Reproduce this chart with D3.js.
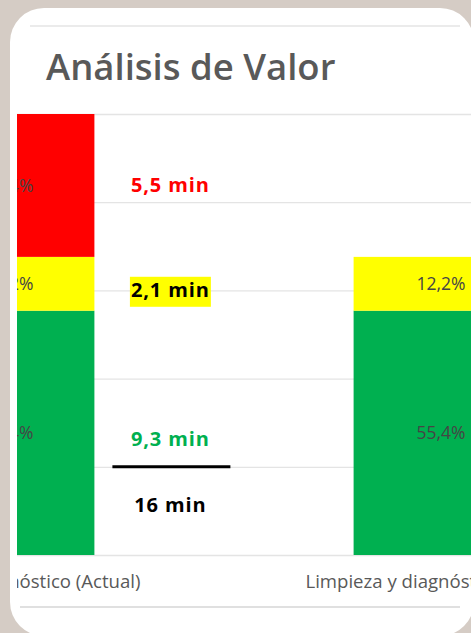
<!DOCTYPE html>
<html><head><meta charset="utf-8">
<script src="https://cdn.jsdelivr.net/npm/d3@7"></script>
<style>html,body{margin:0;padding:0;background:#d5ccc5;overflow:hidden}</style>
</head><body>
<svg id="chart" width="471" height="633"></svg>
<script>
// ---- data ----
const title = "Análisis de Valor";
const categories = ["Limpieza y diagnóstico (Actual)", "Limpieza y diagnóstico (Futuro)"];
const seriesNames = ["Valor agregado", "Necesario sin valor agregado", "Desperdicio"];
const valorAgregado = [55.4, 55.4];
const necesario = [12.2, 12.2];
const desperdicio = [32.4, 0];
const yTicks = [0, 20, 40, 60, 80, 100];
const minutes = [9.3, 2.1, 5.5];      // valor agregado, necesario, desperdicio
const totalMinutes = 16;
const seriesColors = ["#00b050", "#ffff00", "#ff0000"];
const minuteColors = ["#00b050", "#000000", "#ff0000"];

// ---- build ----
const svg = d3.select("#chart");
const W = 471, H = 633;
const fmtPct = v => d3.format(".1f")(v).replace(".", ",") + "%";
const fmtMin = v => String(v).replace(".", ",") + " min";

// card
svg.append("rect").attr("x", 10).attr("y", 8).attr("width", 464).attr("height", 628)
  .attr("rx", 34).attr("fill", "#ffffff");
svg.append("line").attr("x1", 30).attr("x2", 460).attr("y1", 26).attr("y2", 26)
  .attr("stroke", "#ebebeb").attr("stroke-width", 2);
svg.append("line").attr("x1", 20).attr("x2", 460).attr("y1", 607).attr("y2", 607)
  .attr("stroke", "#e0e0e0").attr("stroke-width", 2);

// title
svg.append("text").attr("x", 46).attr("y", 80).text(title)
  .attr("font-family", "'Open Sans', sans-serif").attr("font-weight", 600)
  .attr("font-size", 36.5).attr("fill", "#595959");

// clip for chart content (screenshot crop)
svg.append("clipPath").attr("id", "clip").append("rect")
  .attr("x", 17).attr("y", 27).attr("width", W - 17).attr("height", 578);
const g = svg.append("g").attr("clip-path", "url(#clip)");

const y = d3.scaleLinear().domain([0, 100]).range([555, 114]);
const x = d3.scaleBand().domain(categories).range([-208, 656]).paddingInner(0.6).paddingOuter(0.3);

// gridlines
const yAxis = d3.axisLeft(y).tickValues(yTicks).tickSize(-(W + 300)).tickFormat("");
const ga = g.append("g").attr("transform", "translate(-100,0)").call(yAxis);
ga.select(".domain").remove();
ga.selectAll(".tick line").attr("stroke", "#e4e4e4").attr("stroke-width", 1.3);

// stacked bars
const rows = categories.map((c, i) => ({cat: c, s0: valorAgregado[i], s1: necesario[i], s2: desperdicio[i]}));
const stack = d3.stack().keys(["s0", "s1", "s2"]);
const series = stack(rows);
series.forEach((s, si) => {
  const gs = g.append("g");
  gs.selectAll("rect").data(s).join("rect")
    .attr("x", d => x(d.data.cat)).attr("width", x.bandwidth())
    .attr("y", d => y(d[1])).attr("height", d => y(d[0]) - y(d[1]))
    .attr("fill", seriesColors[si]);
  gs.selectAll("text").data(s.filter(d => d[1] - d[0] > 0)).join("text")
    .attr("x", d => x(d.data.cat) + x.bandwidth() / 2 + 1)
    .attr("y", d => y((d[0] + d[1]) / 2))
    .attr("dy", "0.35em").attr("text-anchor", "middle")
    .attr("font-family", "'Open Sans', sans-serif").attr("font-size", 17.5)
    .attr("fill", "#454545")
    .text(d => fmtPct(d[1] - d[0]));
});

// category labels
g.selectAll(".cat").data(categories).join("text").attr("class", "cat")
  .attr("x", d => x(d) + x.bandwidth() / 2).attr("y", 588)
  .attr("text-anchor", "middle")
  .attr("font-family", "'Open Sans', sans-serif").attr("font-size", 18.6)
  .attr("fill", "#595959").text(d => d);

// minute annotations
const labelX = x(categories[0]) + x.bandwidth() + 76;
const seg = series.map(s => s[0]);
const minOffsets = [6, 6, 0];
const mins = svg.append("g");
minutes.forEach((m, i) => {
  const cy = y((seg[i][0] + seg[i][1]) / 2) + minOffsets[i];
  const t = mins.append("text").attr("x", labelX).attr("y", cy).attr("dy", "0.35em")
    .attr("text-anchor", "middle")
    .attr("font-family", "'Open Sans', sans-serif").attr("font-weight", 700)
    .attr("font-size", 20).attr("letter-spacing", 0.9)
    .attr("fill", minuteColors[i]).text(fmtMin(m));
  if (i === 1) {
    const bb = t.node().getBBox();
    mins.insert("rect", "text").attr("x", bb.x - 1).attr("y", bb.y + 1)
      .attr("width", bb.width + 2).attr("height", bb.height + 3).attr("fill", "#ffff00");
  }
});
mins.append("line").attr("x1", labelX - 58).attr("x2", labelX + 60)
  .attr("y1", y(20)).attr("y2", y(20)).attr("stroke", "#000").attr("stroke-width", 3);
mins.append("text").attr("x", labelX).attr("y", y(20) + 38).attr("dy", "0.35em")
  .attr("text-anchor", "middle")
  .attr("font-family", "'Open Sans', sans-serif").attr("font-weight", 700)
  .attr("font-size", 20).attr("letter-spacing", 0.9)
  .attr("fill", "#000").text(fmtMin(totalMinutes));
</script>
</body></html>
